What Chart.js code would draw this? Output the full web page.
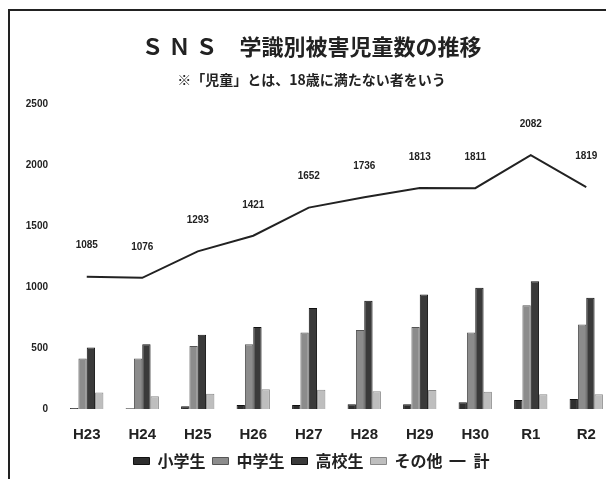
<!DOCTYPE html>
<html lang="ja">
<head>
<meta charset="utf-8">
<title>SNS 学識別被害児童数の推移</title>
<script src="https://cdn.jsdelivr.net/npm/chart.js@4.4.1/dist/chart.umd.min.js"></script>
<style>
  html, body { margin: 0; padding: 0; background: #fff; overflow: hidden; }
  #wrap { position: relative; width: 606px; height: 479px; overflow: hidden; }
  #frame { position: absolute; left: 8px; top: 9px; width: 700px; height: 600px;
           border-left: 2px solid #222; border-top: 2px solid #222; pointer-events: none; }
  #chart { position: absolute; left: 0; top: 0; }
</style>
</head>
<body>
<div id="wrap">
  <canvas id="chart" width="614" height="479"></canvas>
  <div id="frame"></div>
</div>
<script>
const years = ['H23', 'H24', 'H25', 'H26', 'H27', 'H28', 'H29', 'H30', 'R1', 'R2'];
const elementary = [8, 6, 22, 33, 33, 38, 38, 55, 74, 82];
const juniorHigh = [414, 414, 517, 531, 627, 648, 673, 627, 850, 694];
const highSchool = [504, 531, 610, 673, 828, 888, 940, 994, 1048, 912];
const others = [136, 104, 125, 163, 158, 145, 155, 142, 120, 122];
const totals = [1085, 1076, 1293, 1421, 1652, 1736, 1813, 1811, 2082, 1819];
const yTicks = [0, 500, 1000, 1500, 2000, 2500];

const fontJP = '"Noto Sans CJK JP", "Liberation Sans", sans-serif';
const fontNum = '"Liberation Sans", Arial, sans-serif';

// draws the total value above each point of the line
const totalLabels = {
    id: 'totalLabels',
    afterDatasetsDraw(chart) {
        const ctx = chart.ctx;
        const meta = chart.getDatasetMeta(4);
        ctx.save();
        ctx.font = 'bold 10px ' + fontNum;
        ctx.fillStyle = '#222';
        ctx.textAlign = 'center';
        ctx.textBaseline = 'middle';
        meta.data.forEach((pt, i) => {
            ctx.fillText(String(totals[i]), pt.x, pt.y - 31);
        });
        ctx.restore();
    }
};

const barStyle = (label, data, fill, border) => ({
    type: 'bar',
    label,
    data,
    backgroundColor: fill,
    borderColor: border,
    borderWidth: 1,
    barPercentage: 1,
    categoryPercentage: 0.6,
    pointStyle: 'rect',
    order: 2
});

new Chart(document.getElementById('chart').getContext('2d'), {
    data: {
        labels: years,
        datasets: [
            barStyle('小学生', elementary, '#2e2e2e', '#111'),
            barStyle('中学生', juniorHigh, '#8c8c8c', '#555'),
            barStyle('高校生', highSchool, '#3a3a3a', '#111'),
            barStyle('その他', others, '#bebebe', '#888'),
            {
                type: 'line',
                label: '計',
                data: totals,
                borderColor: '#222',
                backgroundColor: '#222',
                borderWidth: 2,
                pointRadius: 0,
                pointStyle: 'line',
                tension: 0,
                order: 1
            }
        ]
    },
    plugins: [totalLabels],
    options: {
        responsive: false,
        animation: false,
        layout: { padding: { left: 9, right: 0, top: 0, bottom: 0 } },
        scales: {
            x: {
                grid: { display: false, drawTicks: false },
                border: { display: false },
                afterFit(scale) { scale.height = 37; },
                ticks: {
                    color: '#222',
                    font: { family: fontNum, size: 15, weight: 'bold' },
                    padding: 17
                }
            },
            y: {
                min: 0,
                max: 2500,
                grid: { display: false, drawTicks: false },
                border: { display: false },
                afterBuildTicks(scale) {
                    scale.ticks = yTicks.map(v => ({ value: v }));
                },
                afterFit(scale) { scale.width = 50; },
                ticks: {
                    color: '#222',
                    font: { family: fontNum, size: 10, weight: 'bold' },
                    padding: 11,
                    callback: v => String(v)
                }
            }
        },
        plugins: {
            title: {
                display: true,
                text: 'Ｓ Ｎ Ｓ　学識別被害児童数の推移',
                color: '#222',
                font: { family: fontJP, size: 22, weight: 'bold' },
                padding: { top: 33, bottom: 9 }
            },
            subtitle: {
                display: true,
                text: '※「児童」とは、18歳に満たない者をいう',
                color: '#222',
                font: { family: fontJP, size: 14, weight: 'bold' },
                padding: { top: 3, bottom: 16 }
            },
            legend: {
                position: 'bottom',
                labels: {
                    color: '#222',
                    font: { family: fontJP, size: 16, weight: 'bold' },
                    usePointStyle: true,
                    pointStyleWidth: 16,
                    boxHeight: 7,
                    padding: 7,
                    sort: (a, b) => a.datasetIndex - b.datasetIndex
                }
            },
            tooltip: { enabled: false }
        }
    }
});
</script>
</body>
</html>
